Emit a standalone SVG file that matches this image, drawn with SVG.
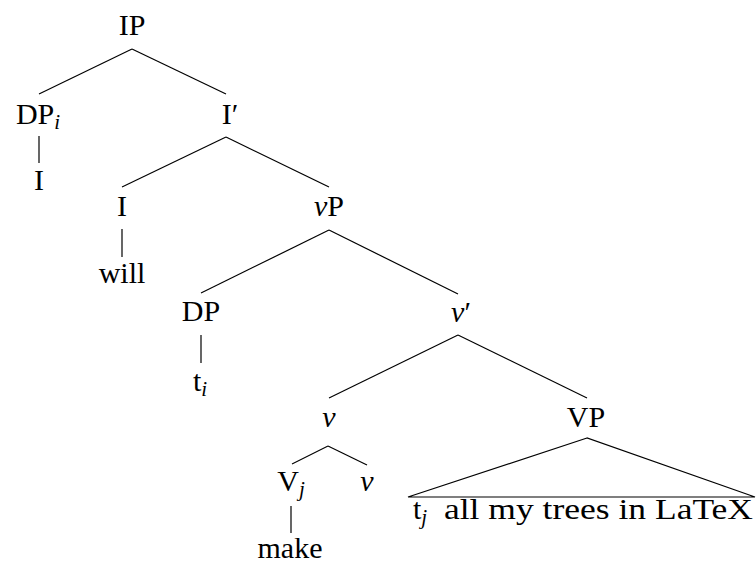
<svg xmlns="http://www.w3.org/2000/svg" width="756" height="563" viewBox="0 0 756 563">
<style>
text{font-family:"Liberation Serif","DejaVu Serif","Noto Serif",serif;font-size:30px;fill:#000}
.it{font-style:italic}
.sub{font-style:italic;font-size:21px}
line,polygon{stroke:#000;stroke-width:1.2;fill:none}
</style>
<rect width="756" height="563" fill="#fff"/>
<g id="connectors">
<line x1="132" y1="49" x2="39" y2="94"/>
<line x1="132" y1="49" x2="226" y2="94"/>
<line x1="39" y1="136" x2="39" y2="163"/>
<line x1="226" y1="137" x2="122" y2="187"/>
<line x1="226" y1="137" x2="329" y2="187"/>
<line x1="122" y1="229" x2="122" y2="257"/>
<line x1="329" y1="230" x2="201" y2="293"/>
<line x1="329" y1="230" x2="458" y2="294"/>
<line x1="201" y1="335" x2="201" y2="363"/>
<line x1="458" y1="335" x2="329" y2="398"/>
<line x1="458" y1="335" x2="587" y2="398"/>
<line x1="328" y1="446" x2="292" y2="464"/>
<line x1="328" y1="446" x2="367" y2="465"/>
<line x1="291" y1="506" x2="291" y2="533"/>
<polygon points="587,438 408,497 755,497"/>
</g>
<g id="IP"><text x="132" y="35" text-anchor="middle">IP</text></g>
<g id="DPi"><text x="38" y="124" text-anchor="middle">DP<tspan class="sub" dy="5">i</tspan></text></g>
<g id="I1"><text x="39" y="190" text-anchor="middle">I</text></g>
<g id="Ibar"><text x="230" y="124" text-anchor="middle">I′</text></g>
<g id="I2"><text x="122" y="216" text-anchor="middle">I</text></g>
<g id="will"><text x="122" y="283" text-anchor="middle">will</text></g>
<g id="vP"><text x="329" y="216" text-anchor="middle"><tspan class="it">v</tspan>P</text></g>
<g id="DP"><text x="201" y="321" text-anchor="middle">DP</text></g>
<g id="ti"><text x="200" y="391" text-anchor="middle">t<tspan class="sub" dy="5">i</tspan></text></g>
<g id="vbar"><text x="461" y="322" text-anchor="middle"><tspan class="it">v</tspan>′</text></g>
<g id="v1"><text x="329" y="427" text-anchor="middle" class="it">v</text></g>
<g id="VP"><text x="586" y="427" text-anchor="middle">VP</text></g>
<g id="Vj"><text x="291" y="491" text-anchor="middle">V<tspan class="sub" dy="5">j</tspan></text></g>
<g id="v2"><text x="367" y="491" text-anchor="middle" class="it">v</text></g>
<g id="make"><text x="290" y="558" text-anchor="middle">make</text></g>
<g id="VPtext">
<text x="413" y="519">t<tspan class="sub" dy="5">j</tspan></text>
<text x="444" y="519" textLength="309" lengthAdjust="spacingAndGlyphs">all my trees in LaTeX</text>
</g>
</svg>
